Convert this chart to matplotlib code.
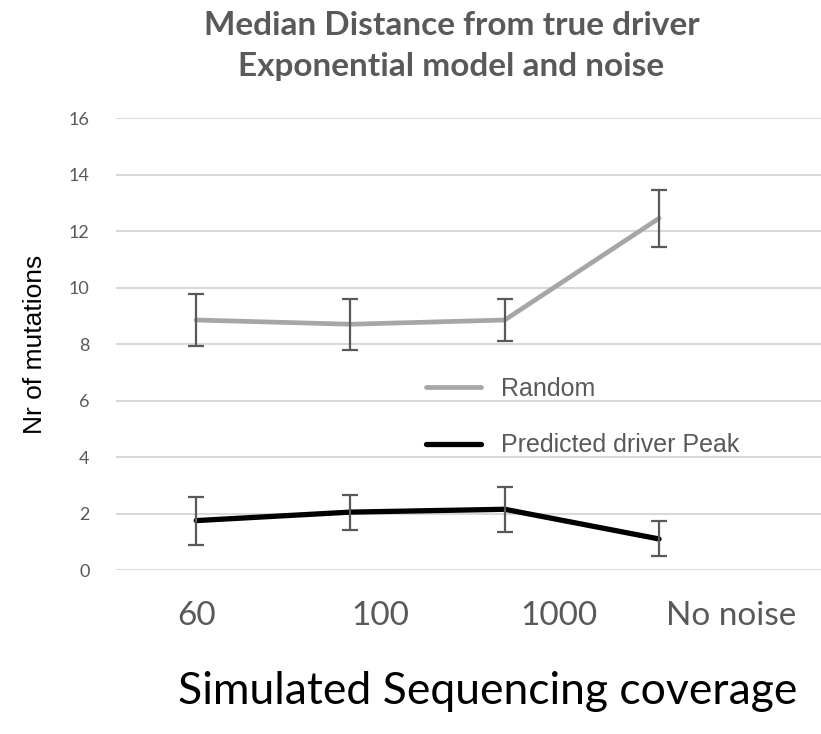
import numpy as np
import matplotlib.pyplot as plt

# -----------------------------------------------------------
# Data
# -----------------------------------------------------------
coverage_labels = ["60", "100", "1000", "No noise"]

random_median = [8.85, 8.7, 8.85, 12.45]
random_err = [0.93, 0.9, 0.76, 1.0]

predicted_median = [1.75, 2.05, 2.15, 1.1]
predicted_err = [0.85, 0.62, 0.8, 0.62]

y_ticks = [0, 2, 4, 6, 8, 10, 12, 14, 16]

# -----------------------------------------------------------
# Style
# -----------------------------------------------------------
grey_text = "#595959"
grid_col = "#d9d9d9"
random_col = "#a6a6a6"
err_col = "#595959"

title_font = "Lato"
body_font = "Liberation Sans"

fig = plt.figure(figsize=(8.21, 7.34), dpi=100)
ax = fig.add_axes([0.1413, 0.2234, 0.8587, 0.6158])

x = np.arange(len(coverage_labels))

ax.plot(x, random_median, color=random_col, linewidth=3.4,
        solid_capstyle="round", label="Random", zorder=3)
ax.plot(x, predicted_median, color="black", linewidth=3.8,
        solid_capstyle="round", label="Predicted driver Peak", zorder=3)

for vals, errs in [(random_median, random_err), (predicted_median, predicted_err)]:
    ax.errorbar(x, vals, yerr=errs, fmt="none", ecolor=err_col,
                elinewidth=1.6, capsize=6, capthick=1.6, zorder=4)

ax.set_ylim(0, 16)
ax.set_xlim(-0.52, 4.05)
ax.set_yticks(y_ticks)
ax.yaxis.grid(True, color=grid_col, linewidth=1.5, zorder=0)
ax.set_axisbelow(True)
for s in ax.spines.values():
    s.set_visible(False)

ax.tick_params(axis="y", length=0, pad=19, labelsize=13, labelcolor=grey_text)
for lbl in ax.get_yticklabels():
    lbl.set_fontfamily(title_font)

# category labels sit a little to the right of the data columns
label_pos = [0.0, 1.19, 2.35, 3.47]
ax.set_xticks(label_pos)
ax.set_xticklabels(coverage_labels, fontfamily=title_font, fontsize=24,
                   color=grey_text)
ax.tick_params(axis="x", length=0, pad=22)

ax.set_ylabel("Nr of mutations", fontfamily=body_font, fontsize=19,
              color="black", labelpad=16)

leg = ax.legend(loc="center left", bbox_to_anchor=(0.408, 0.338), frameon=False,
                handlelength=2.2, handletextpad=0.8, labelspacing=1.3,
                prop={"family": body_font, "size": 18})
for t in leg.get_texts():
    t.set_color(grey_text)

fig.text(0.55, 0.965, "Median Distance from true driver",
         ha="center", va="center", fontfamily=title_font, fontweight="bold",
         fontsize=24, color=grey_text)
fig.text(0.55, 0.91, "Exponential model and noise",
         ha="center", va="center", fontfamily=title_font, fontweight="bold",
         fontsize=24, color=grey_text)

fig.text(0.594, 0.058, "Simulated Sequencing coverage",
         ha="center", va="center", fontfamily=title_font, fontsize=32,
         color="black")

fig.savefig("out.png", dpi=100)
